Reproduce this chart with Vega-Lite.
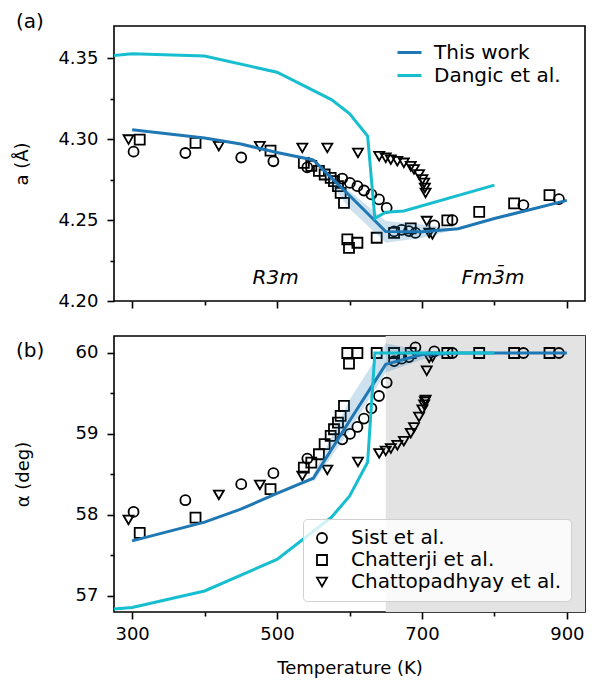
{
  "$schema": "https://vega.github.io/schema/vega-lite/v6.json",
  "padding": {"left": 13, "top": 11, "right": 8, "bottom": 5},
  "spacing": 24,
  "config": {
    "font": "DejaVu Sans",
    "view": {"stroke": "#000", "strokeWidth": 1.6},
    "axis": {
      "labelFont": "DejaVu Sans", "titleFont": "DejaVu Sans",
      "labelFontSize": 18, "titleFontSize": 18, "titleFontWeight": "normal",
      "labelColor": "#000", "titleColor": "#000", "tickColor": "#000", "tickWidth": 1.6,
      "domain": false, "grid": false, "labelPadding": 6, "labelOverlap": false, "labelBound": false, "labelFlush": false
    },
    "axisY": {"labelPadding": 9},
    "title": {"font": "DejaVu Sans", "fontSize": 20, "fontWeight": "normal", "color": "#000"},
    "legend": {"labelFont": "DejaVu Sans", "labelColor": "#000", "labelFontSize": 20, "labelLimit": 400}
  },
  "resolve": {"scale": {"color": "independent", "shape": "independent"}},
  "datasets": {
    "pts_a": [
      {"src": "Sist et al.", "T": 302, "a": 4.2923}, {"src": "Sist et al.", "T": 373.5, "a": 4.2915},
      {"src": "Sist et al.", "T": 450.6, "a": 4.2887}, {"src": "Sist et al.", "T": 495, "a": 4.2864},
      {"src": "Sist et al.", "T": 541.8, "a": 4.2826}, {"src": "Sist et al.", "T": 590, "a": 4.2757},
      {"src": "Sist et al.", "T": 600.6, "a": 4.273}, {"src": "Sist et al.", "T": 610.9, "a": 4.271},
      {"src": "Sist et al.", "T": 620, "a": 4.2683}, {"src": "Sist et al.", "T": 630.2, "a": 4.2659},
      {"src": "Sist et al.", "T": 640.7, "a": 4.2628}, {"src": "Sist et al.", "T": 651.3, "a": 4.2576},
      {"src": "Sist et al.", "T": 661.5, "a": 4.243}, {"src": "Sist et al.", "T": 672, "a": 4.244},
      {"src": "Sist et al.", "T": 682, "a": 4.2432}, {"src": "Sist et al.", "T": 691, "a": 4.2421},
      {"src": "Sist et al.", "T": 717, "a": 4.2467}, {"src": "Sist et al.", "T": 742, "a": 4.25},
      {"src": "Sist et al.", "T": 840, "a": 4.2593}, {"src": "Sist et al.", "T": 889, "a": 4.263},
      {"src": "Chatterji et al.", "T": 310.5, "a": 4.2998}, {"src": "Chatterji et al.", "T": 387.5, "a": 4.2977},
      {"src": "Chatterji et al.", "T": 491, "a": 4.293}, {"src": "Chatterji et al.", "T": 537, "a": 4.2854},
      {"src": "Chatterji et al.", "T": 547.3, "a": 4.2835}, {"src": "Chatterji et al.", "T": 557.8, "a": 4.2805},
      {"src": "Chatterji et al.", "T": 565.7, "a": 4.2782}, {"src": "Chatterji et al.", "T": 574, "a": 4.2761},
      {"src": "Chatterji et al.", "T": 578.6, "a": 4.2741}, {"src": "Chatterji et al.", "T": 584.1, "a": 4.271},
      {"src": "Chatterji et al.", "T": 587.8, "a": 4.2669}, {"src": "Chatterji et al.", "T": 592.4, "a": 4.2607},
      {"src": "Chatterji et al.", "T": 597, "a": 4.2381}, {"src": "Chatterji et al.", "T": 599.3, "a": 4.2329},
      {"src": "Chatterji et al.", "T": 610.9, "a": 4.236}, {"src": "Chatterji et al.", "T": 637.5, "a": 4.2391},
      {"src": "Chatterji et al.", "T": 661.5, "a": 4.2421}, {"src": "Chatterji et al.", "T": 684.5, "a": 4.2449},
      {"src": "Chatterji et al.", "T": 735, "a": 4.2498}, {"src": "Chatterji et al.", "T": 779, "a": 4.2551},
      {"src": "Chatterji et al.", "T": 827.2, "a": 4.2603}, {"src": "Chatterji et al.", "T": 876, "a": 4.2654},
      {"src": "Chattopadhyay et al.", "T": 295, "a": 4.2998}, {"src": "Chattopadhyay et al.", "T": 419.7, "a": 4.2957},
      {"src": "Chattopadhyay et al.", "T": 476.3, "a": 4.2957}, {"src": "Chattopadhyay et al.", "T": 534.9, "a": 4.2946},
      {"src": "Chattopadhyay et al.", "T": 569.4, "a": 4.2946}, {"src": "Chattopadhyay et al.", "T": 611.7, "a": 4.2915},
      {"src": "Chattopadhyay et al.", "T": 641, "a": 4.2895}, {"src": "Chattopadhyay et al.", "T": 650, "a": 4.2885},
      {"src": "Chattopadhyay et al.", "T": 657, "a": 4.2874}, {"src": "Chattopadhyay et al.", "T": 666, "a": 4.2864},
      {"src": "Chattopadhyay et al.", "T": 675, "a": 4.2854}, {"src": "Chattopadhyay et al.", "T": 684.5, "a": 4.2833},
      {"src": "Chattopadhyay et al.", "T": 689, "a": 4.2813}, {"src": "Chattopadhyay et al.", "T": 696, "a": 4.2782},
      {"src": "Chattopadhyay et al.", "T": 700.6, "a": 4.2751}, {"src": "Chattopadhyay et al.", "T": 703, "a": 4.273},
      {"src": "Chattopadhyay et al.", "T": 704, "a": 4.2699}, {"src": "Chattopadhyay et al.", "T": 705, "a": 4.2668},
      {"src": "Chattopadhyay et al.", "T": 706.6, "a": 4.2494}, {"src": "Chattopadhyay et al.", "T": 710, "a": 4.2421},
      {"src": "Chattopadhyay et al.", "T": 714.5, "a": 4.2412}
    ],
    "pts_b": [
      {"src": "Sist et al.", "T": 302, "alpha": 58.037}, {"src": "Sist et al.", "T": 373.5, "alpha": 58.181},
      {"src": "Sist et al.", "T": 450.6, "alpha": 58.379}, {"src": "Sist et al.", "T": 495, "alpha": 58.515},
      {"src": "Sist et al.", "T": 541.8, "alpha": 58.695}, {"src": "Sist et al.", "T": 590, "alpha": 58.934},
      {"src": "Sist et al.", "T": 600.6, "alpha": 59.0}, {"src": "Sist et al.", "T": 610.9, "alpha": 59.086},
      {"src": "Sist et al.", "T": 620, "alpha": 59.19}, {"src": "Sist et al.", "T": 630.2, "alpha": 59.317},
      {"src": "Sist et al.", "T": 640.7, "alpha": 59.469}, {"src": "Sist et al.", "T": 651.3, "alpha": 59.634},
      {"src": "Sist et al.", "T": 661.5, "alpha": 59.9}, {"src": "Sist et al.", "T": 672, "alpha": 59.93},
      {"src": "Sist et al.", "T": 682, "alpha": 59.95}, {"src": "Sist et al.", "T": 691, "alpha": 60.07},
      {"src": "Sist et al.", "T": 717, "alpha": 60.02}, {"src": "Sist et al.", "T": 742, "alpha": 60.0},
      {"src": "Sist et al.", "T": 840, "alpha": 60.0}, {"src": "Sist et al.", "T": 889, "alpha": 60.0},
      {"src": "Chatterji et al.", "T": 310.5, "alpha": 57.778}, {"src": "Chatterji et al.", "T": 387.5, "alpha": 57.967},
      {"src": "Chatterji et al.", "T": 491, "alpha": 58.317}, {"src": "Chatterji et al.", "T": 537, "alpha": 58.584},
      {"src": "Chatterji et al.", "T": 547.3, "alpha": 58.646}, {"src": "Chatterji et al.", "T": 557.8, "alpha": 58.749},
      {"src": "Chatterji et al.", "T": 565.7, "alpha": 58.873}, {"src": "Chatterji et al.", "T": 574, "alpha": 58.975},
      {"src": "Chatterji et al.", "T": 578.6, "alpha": 59.058}, {"src": "Chatterji et al.", "T": 584.1, "alpha": 59.14},
      {"src": "Chatterji et al.", "T": 587.8, "alpha": 59.222}, {"src": "Chatterji et al.", "T": 592.4, "alpha": 59.346},
      {"src": "Chatterji et al.", "T": 597, "alpha": 60.0}, {"src": "Chatterji et al.", "T": 599.3, "alpha": 59.868},
      {"src": "Chatterji et al.", "T": 610.9, "alpha": 60.0}, {"src": "Chatterji et al.", "T": 637.5, "alpha": 60.0},
      {"src": "Chatterji et al.", "T": 661.5, "alpha": 60.0}, {"src": "Chatterji et al.", "T": 684.5, "alpha": 60.0},
      {"src": "Chatterji et al.", "T": 735, "alpha": 60.0}, {"src": "Chatterji et al.", "T": 779, "alpha": 60.0},
      {"src": "Chatterji et al.", "T": 827.2, "alpha": 60.0}, {"src": "Chatterji et al.", "T": 876, "alpha": 60.0},
      {"src": "Chattopadhyay et al.", "T": 295, "alpha": 57.938}, {"src": "Chattopadhyay et al.", "T": 419.7, "alpha": 58.247},
      {"src": "Chattopadhyay et al.", "T": 476.3, "alpha": 58.37}, {"src": "Chattopadhyay et al.", "T": 534.9, "alpha": 58.481},
      {"src": "Chattopadhyay et al.", "T": 569.4, "alpha": 58.556}, {"src": "Chattopadhyay et al.", "T": 611.7, "alpha": 58.654},
      {"src": "Chattopadhyay et al.", "T": 641, "alpha": 58.76}, {"src": "Chattopadhyay et al.", "T": 650, "alpha": 58.79},
      {"src": "Chattopadhyay et al.", "T": 657, "alpha": 58.82}, {"src": "Chattopadhyay et al.", "T": 666, "alpha": 58.86},
      {"src": "Chattopadhyay et al.", "T": 675, "alpha": 58.91}, {"src": "Chattopadhyay et al.", "T": 684.5, "alpha": 59.01},
      {"src": "Chattopadhyay et al.", "T": 689, "alpha": 59.08}, {"src": "Chattopadhyay et al.", "T": 696, "alpha": 59.21},
      {"src": "Chattopadhyay et al.", "T": 700.6, "alpha": 59.3}, {"src": "Chattopadhyay et al.", "T": 703, "alpha": 59.36},
      {"src": "Chattopadhyay et al.", "T": 704, "alpha": 59.4}, {"src": "Chattopadhyay et al.", "T": 705, "alpha": 59.42},
      {"src": "Chattopadhyay et al.", "T": 706.6, "alpha": 59.78}, {"src": "Chattopadhyay et al.", "T": 710, "alpha": 59.94},
      {"src": "Chattopadhyay et al.", "T": 714.5, "alpha": 59.95}
    ],
    "lines_a": [
      {"src": "This work", "T": 300, "a": 4.3058}, {"src": "This work", "T": 400, "a": 4.3008},
      {"src": "This work", "T": 450, "a": 4.297}, {"src": "This work", "T": 500, "a": 4.2918},
      {"src": "This work", "T": 550, "a": 4.2872}, {"src": "This work", "T": 600, "a": 4.2652},
      {"src": "This work", "T": 650, "a": 4.243}, {"src": "This work", "T": 700, "a": 4.2428},
      {"src": "This work", "T": 750, "a": 4.2447}, {"src": "This work", "T": 800, "a": 4.251},
      {"src": "This work", "T": 850, "a": 4.2566}, {"src": "This work", "T": 900, "a": 4.2622},
      {"src": "Dangic et al.", "T": 250, "a": 4.3505}, {"src": "Dangic et al.", "T": 300, "a": 4.3529},
      {"src": "Dangic et al.", "T": 400, "a": 4.3514}, {"src": "Dangic et al.", "T": 500, "a": 4.3414},
      {"src": "Dangic et al.", "T": 575, "a": 4.3245}, {"src": "Dangic et al.", "T": 600, "a": 4.3158},
      {"src": "Dangic et al.", "T": 625, "a": 4.3019}, {"src": "Dangic et al.", "T": 635, "a": 4.2511},
      {"src": "Dangic et al.", "T": 650, "a": 4.2549}, {"src": "Dangic et al.", "T": 675, "a": 4.2556},
      {"src": "Dangic et al.", "T": 800, "a": 4.2716}
    ],
    "lines_b": [
      {"src": "This work", "T": 300, "alpha": 57.679}, {"src": "This work", "T": 400, "alpha": 57.91},
      {"src": "This work", "T": 450, "alpha": 58.07}, {"src": "This work", "T": 500, "alpha": 58.265},
      {"src": "This work", "T": 550, "alpha": 58.453}, {"src": "This work", "T": 600, "alpha": 59.16},
      {"src": "This work", "T": 650, "alpha": 59.86}, {"src": "This work", "T": 700, "alpha": 59.98},
      {"src": "This work", "T": 750, "alpha": 60.0}, {"src": "This work", "T": 800, "alpha": 60.0},
      {"src": "This work", "T": 850, "alpha": 60.0}, {"src": "This work", "T": 900, "alpha": 60.0},
      {"src": "Dangic et al.", "T": 250, "alpha": 56.816}, {"src": "Dangic et al.", "T": 300, "alpha": 56.856},
      {"src": "Dangic et al.", "T": 400, "alpha": 57.06}, {"src": "Dangic et al.", "T": 500, "alpha": 57.45},
      {"src": "Dangic et al.", "T": 575, "alpha": 57.97}, {"src": "Dangic et al.", "T": 600, "alpha": 58.23},
      {"src": "Dangic et al.", "T": 625, "alpha": 58.65}, {"src": "Dangic et al.", "T": 635, "alpha": 60.0},
      {"src": "Dangic et al.", "T": 650, "alpha": 60.0}, {"src": "Dangic et al.", "T": 675, "alpha": 60.0},
      {"src": "Dangic et al.", "T": 800, "alpha": 60.0}
    ],
    "band_a": [
      {"T": 550, "lo": 4.2872, "hi": 4.2872}, {"T": 600, "lo": 4.257, "hi": 4.268},
      {"T": 650, "lo": 4.236, "hi": 4.2494}, {"T": 700, "lo": 4.239, "hi": 4.2473},
      {"T": 750, "lo": 4.2447, "hi": 4.2447}
    ],
    "band_b": [
      {"T": 550, "lo": 58.4, "hi": 58.5}, {"T": 600, "lo": 59.04, "hi": 59.42},
      {"T": 650, "lo": 59.76, "hi": 60.12}, {"T": 700, "lo": 59.92, "hi": 60.03},
      {"T": 750, "lo": 59.99, "hi": 60.01}, {"T": 800, "lo": 60.0, "hi": 60.0}
    ],
    "phases": [
      {"T": 498, "a": 4.2144, "label": "R3m"},
      {"T": 798, "a": 4.2144, "label": "Fm3\u0304m"}
    ],
    "shade": [{"T0": 650, "T1": 925}]
  },
  "vconcat": [
    {
      "width": 471, "height": 275,
      "title": {"text": "(a)", "anchor": "start", "frame": "group", "orient": "top", "offset": 0, "dx": -98, "dy": 6},
      "layer": [
        {
          "data": {"name": "pts_a"},
          "mark": {"type": "point", "filled": false, "opacity": 1, "strokeWidth": 1.8, "size": 100, "color": "#000"},
          "encoding": {
            "x": {"field": "T", "type": "quantitative", "scale": {"domain": [275, 925], "nice": false, "zero": false},
              "axis": {"values": [300, 350, 400, 450, 500, 550, 600, 650, 700, 750, 800, 850, 900], "labels": false, "title": null,
                "tickSize": {"condition": {"test": "datum.value % 200 == 100", "value": 7}, "value": 4}}},
            "y": {"field": "a", "type": "quantitative", "scale": {"domain": [4.2, 4.37], "nice": false, "zero": false},
              "axis": {"values": [4.2, 4.225, 4.25, 4.275, 4.3, 4.325, 4.35], "format": ".2f", "title": "a (Å)", "titlePadding": 26,
                "labelExpr": "abs(datum.value*20 - round(datum.value*20)) < 0.01 ? datum.label : ''",
                "tickSize": {"condition": {"test": "abs(datum.value*20 - round(datum.value*20)) < 0.01", "value": 7}, "value": 4}}},
            "shape": {"field": "src", "type": "nominal", "scale": {"domain": ["Sist et al.", "Chatterji et al.", "Chattopadhyay et al."], "range": ["circle", "square", "triangle-down"]}, "legend": null}
          }
        },
        {
          "data": {"name": "band_a"},
          "mark": {"type": "area", "color": "#1f77b4", "opacity": 0.22},
          "encoding": {
            "x": {"field": "T", "type": "quantitative", "scale": {"domain": [275, 925], "nice": false, "zero": false}},
            "y": {"field": "lo", "type": "quantitative", "scale": {"domain": [4.2, 4.37], "nice": false, "zero": false}},
            "y2": {"field": "hi"}
          }
        },
        {
          "data": {"name": "lines_a"},
          "mark": {"type": "line", "strokeWidth": 3, "clip": true},
          "encoding": {
            "x": {"field": "T", "type": "quantitative", "scale": {"domain": [275, 925], "nice": false, "zero": false}},
            "y": {"field": "a", "type": "quantitative", "scale": {"domain": [4.2, 4.37], "nice": false, "zero": false}},
            "color": {"field": "src", "type": "nominal", "sort": null,
              "scale": {"domain": ["This work", "Dangic et al."], "range": ["#1f77b4", "#17becf"]},
              "legend": {"orient": "none", "legendX": 284, "legendY": 15, "title": null, "symbolType": "M-1.2,0H1.2", "symbolSize": 400, "symbolStrokeWidth": 3, "labelOffset": 13, "rowPadding": 1, "padding": 0}}
          }
        },
        {
          "data": {"name": "phases"},
          "mark": {"type": "text", "fontSize": 20, "fontStyle": "italic", "font": "DejaVu Sans", "color": "#000", "align": "center", "baseline": "middle"},
          "encoding": {
            "x": {"field": "T", "type": "quantitative", "scale": {"domain": [275, 925], "nice": false, "zero": false}},
            "y": {"field": "a", "type": "quantitative", "scale": {"domain": [4.2, 4.37], "nice": false, "zero": false}},
            "text": {"field": "label"}
          }
        }
      ]
    },
    {
      "width": 471, "height": 276,
      "title": {"text": "(b)", "anchor": "start", "frame": "group", "orient": "top", "offset": 0, "dx": -98, "dy": 25},
      "layer": [
        {
          "data": {"name": "shade"},
          "mark": {"type": "rect", "color": "#e3e3e3"},
          "encoding": {
            "x": {"field": "T0", "type": "quantitative", "scale": {"domain": [275, 925], "nice": false, "zero": false}},
            "x2": {"field": "T1"}
          }
        },
        {
          "data": {"name": "pts_b"},
          "mark": {"type": "point", "filled": false, "opacity": 1, "strokeWidth": 1.8, "size": 100, "color": "#000"},
          "encoding": {
            "x": {"field": "T", "type": "quantitative", "scale": {"domain": [275, 925], "nice": false, "zero": false},
              "axis": {"values": [300, 350, 400, 450, 500, 550, 600, 650, 700, 750, 800, 850, 900], "title": "Temperature (K)", "titlePadding": 16,
                "labelExpr": "datum.value % 200 == 100 ? datum.label : ''",
                "tickSize": {"condition": {"test": "datum.value % 200 == 100", "value": 7}, "value": 4}}},
            "y": {"field": "alpha", "type": "quantitative", "scale": {"domain": [56.8, 60.21], "nice": false, "zero": false},
              "axis": {"values": [57, 57.5, 58, 58.5, 59, 59.5, 60], "format": ".0f", "title": "α (deg)", "titlePadding": 43,
                "labelExpr": "datum.value % 1 == 0 ? datum.label : ''",
                "tickSize": {"condition": {"test": "datum.value % 1 == 0", "value": 7}, "value": 4}}},
            "shape": {"field": "src", "type": "nominal", "scale": {"domain": ["Sist et al.", "Chatterji et al.", "Chattopadhyay et al."], "range": ["circle", "square", "triangle-down"]},
              "legend": {"orient": "none", "legendX": 189, "legendY": 183, "title": null, "symbolSize": 100, "symbolStrokeWidth": 1.8, "symbolStrokeColor": "#000", "symbolFillColor": "transparent",
                "labelOffset": 19, "rowPadding": 2, "padding": 9, "fillColor": "rgba(255,255,255,0.8)", "strokeColor": "#d0d0d0", "cornerRadius": 4}}
          }
        },
        {
          "data": {"name": "band_b"},
          "mark": {"type": "area", "color": "#1f77b4", "opacity": 0.22},
          "encoding": {
            "x": {"field": "T", "type": "quantitative", "scale": {"domain": [275, 925], "nice": false, "zero": false}},
            "y": {"field": "lo", "type": "quantitative", "scale": {"domain": [56.8, 60.21], "nice": false, "zero": false}},
            "y2": {"field": "hi"}
          }
        },
        {
          "data": {"name": "lines_b"},
          "mark": {"type": "line", "strokeWidth": 3, "clip": true},
          "encoding": {
            "x": {"field": "T", "type": "quantitative", "scale": {"domain": [275, 925], "nice": false, "zero": false}},
            "y": {"field": "alpha", "type": "quantitative", "scale": {"domain": [56.8, 60.21], "nice": false, "zero": false}},
            "color": {"field": "src", "type": "nominal", "sort": null,
              "scale": {"domain": ["This work", "Dangic et al."], "range": ["#1f77b4", "#17becf"]}, "legend": null}
          }
        }
      ]
    }
  ]
}
